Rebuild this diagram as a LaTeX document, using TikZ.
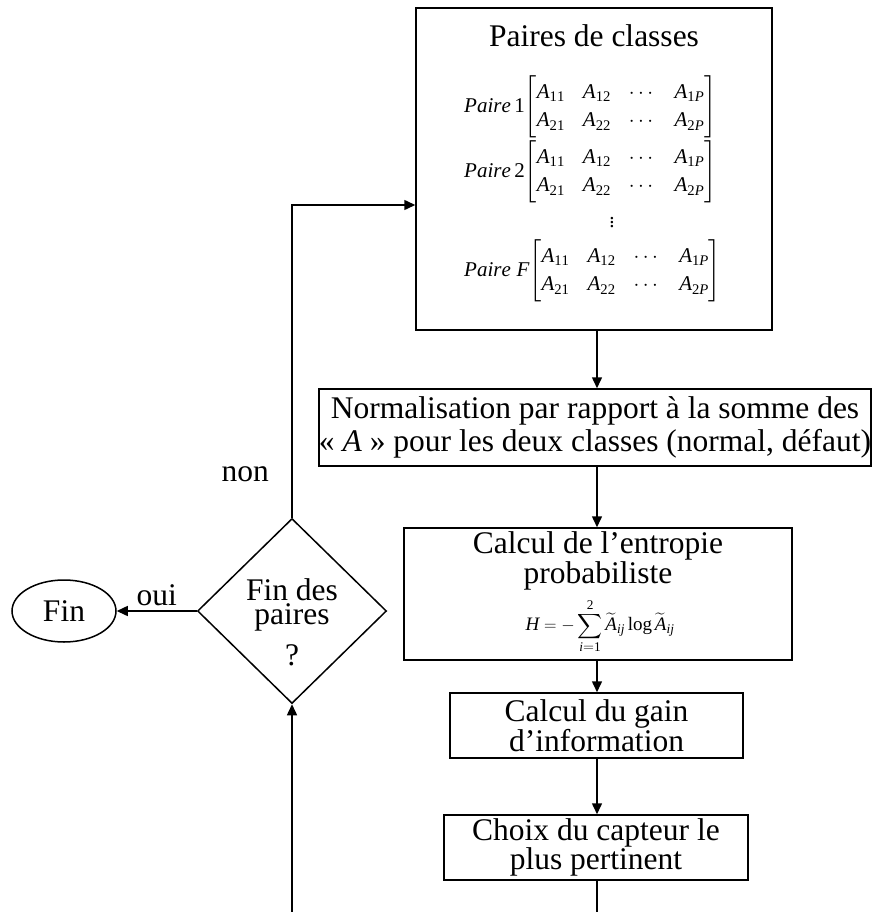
\documentclass[tikz,border=0pt]{standalone}
\usepackage{amsmath}
\usepackage{fontspec}
\setmainfont{Liberation Serif}
\usetikzlibrary{arrows.meta,shapes.geometric,positioning}

\newcommand{\ent}[1]{\mathit{A}_{#1}}
\newcommand{\pairmat}{\begin{bmatrix} \ent{\mathrm{11}} & \ent{\mathrm{12}} & \cdots & \ent{\mathrm{1}\mathit{P}}\\ \ent{\mathrm{21}} & \ent{\mathrm{22}} & \cdots & \ent{\mathrm{2}\mathit{P}}\end{bmatrix}}

\tikzset{
  box/.style={draw, line width=1.5pt, inner sep=0pt, align=center},
  arrow/.style={line width=1.5pt, -{Triangle[length=11pt,width=10pt]}},
  line/.style={line width=1.5pt},
  txt/.style={inner sep=0pt, align=center},
  mat/.style={inner sep=0pt, anchor=west, font=\fontsize{21}{28.5}\selectfont}
}

\begin{document}
\begin{tikzpicture}[x=1pt, y=-1pt, font=\fontsize{31.5}{26.5}\selectfont]
    \useasboundingbox (0,0) rectangle (871,912);

    % boite des paires
    \node[box, minimum width=356pt, minimum height=322pt] (pairs) at (594,169) {};
    \node[txt] (ptitle) at (594,36) {Paires de classes};
    \node[mat] (p1) at (464,107) {$\setlength{\arraycolsep}{9pt}\mathit{Paire}\,\mathrm{1}\!\pairmat$};
    \node[mat] (p2) at (464,172) {$\setlength{\arraycolsep}{9pt}\mathit{Paire}\,\mathrm{2}\!\pairmat$};
    \node[txt, font=\fontsize{21}{21}\selectfont] (pdots) at (612,220) {$\vdots$};
    \node[mat] (pF) at (464,271) {$\setlength{\arraycolsep}{9pt}\mathit{Paire}\;\mathit{F}\!\pairmat$};

    % etapes
    \node[box, minimum width=550pt, minimum height=77pt, font=\fontsize{31.5}{33.5}\selectfont] (norm) at (595,427.5)
        {Normalisation par rapport à la somme des\\« \textit{A} » pour les deux classes (normal, défaut)};
    \node[box, minimum width=388pt, minimum height=132pt] (entropy) at (598,594) {};
    \node[txt, font=\fontsize{31.5}{27}\selectfont] (etitle) at (598,561) {Calcul de l’entropie\\probabiliste};
    \node[txt, font=\fontsize{19}{19}\selectfont] (eformula) at (600,626)
        {$\displaystyle \mathit{H}=-\sum_{\mathit{i}=\mathrm{1}}^{\mathrm{2}}\widetilde{\mathit{A}}_{\mathit{ij}}\,\mathrm{log}\,\widetilde{\mathit{A}}_{\mathit{ij}}$};
    \node[box, minimum width=293pt, minimum height=65pt] (gain) at (596.5,725.5) {Calcul du gain\\d’information};
    \node[box, minimum width=304pt, minimum height=65pt] (choix) at (596,847.5) {Choix du capteur le\\plus pertinent};

    % test et fin
    \node[draw, diamond, aspect=1, line width=1.5pt, inner sep=0pt, minimum width=189pt, minimum height=185pt] (test) at (292,611) {};
    \node[txt, font=\fontsize{31.5}{24}\selectfont] (ttext) at (292,605) {Fin des\\paires};
    \node[txt] (tq) at (292,655) {?};
    \node[draw, ellipse, line width=1.5pt, inner sep=0pt, minimum width=104pt, minimum height=62pt] (fin) at (64,611) {Fin};

    \coordinate (back) at (292,205);
    \coordinate (outA) at (597,912);
    \coordinate (outB) at (292,912);

    \draw[arrow] (pairs.south -| outA) -- (outA |- norm.north);
    \draw[arrow] (norm.south -| outA) -- (outA |- entropy.north);
    \draw[arrow] (entropy.south -| outA) -- (outA |- gain.north);
    \draw[arrow] (gain.south -| outA) -- (outA |- choix.north);
    \draw[line] (outA |- choix.south) -- (outA);
    \draw[arrow] (outB) -- (test.south);
    \draw[arrow] (test.west) -- (fin.east) node[midway, above=1pt] {oui};
    \draw[arrow] (test.north) -- node[pos=0.14, left=19pt] {non} (back) -- (back -| pairs.west);
\end{tikzpicture}
\end{document}
